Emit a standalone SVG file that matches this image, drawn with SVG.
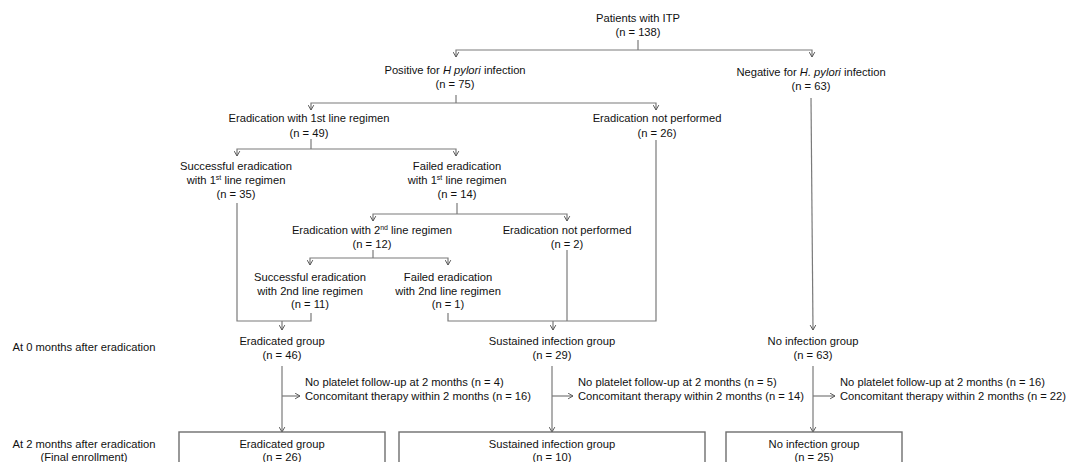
<svg xmlns="http://www.w3.org/2000/svg" width="1080" height="462" viewBox="0 0 1080 462">
<style>
text{font-family:"Liberation Sans",Arial,sans-serif;font-size:11.2px;fill:#111}
.c{text-anchor:middle}
.l{text-anchor:start}
.ln{fill:none;stroke:#7a7a7a;stroke-width:1.2}
.box{fill:#fff;stroke:#6e6e6e;stroke-width:1.4}
.sup{font-size:7px}
</style>
<defs>
<marker id="ah" viewBox="0 0 10 10" refX="9" refY="5" markerWidth="7" markerHeight="7" markerUnits="userSpaceOnUse" orient="auto">
<path d="M2,1 L9,5 L2,9" fill="none" stroke="#555" stroke-width="1.4"/>
</marker>
</defs>
<rect width="1080" height="462" fill="#fff"/>

<g id="connectors">
<path class="ln" d="M638,40 V50"/>
<path class="ln" d="M638,50 H456 V57" marker-end="url(#ah)"/>
<path class="ln" d="M638,50 H812 V57" marker-end="url(#ah)"/>
<path class="ln" d="M456,95 V103"/>
<path class="ln" d="M456,103 H311 V110" marker-end="url(#ah)"/>
<path class="ln" d="M456,103 H656 V110" marker-end="url(#ah)"/>
<path class="ln" d="M311,139 V149"/>
<path class="ln" d="M311,149 H237 V156" marker-end="url(#ah)"/>
<path class="ln" d="M311,149 H456 V156" marker-end="url(#ah)"/>
<path class="ln" d="M457,203 V214"/>
<path class="ln" d="M457,214 H373 V221" marker-end="url(#ah)"/>
<path class="ln" d="M457,214 H567 V221" marker-end="url(#ah)"/>
<path class="ln" d="M373,250 V258"/>
<path class="ln" d="M373,258 H310 V265" marker-end="url(#ah)"/>
<path class="ln" d="M373,258 H448 V265" marker-end="url(#ah)"/>
<path class="ln" d="M237,203 V321 H311 V313"/>
<path class="ln" d="M282,321 V330" marker-end="url(#ah)"/>
<path class="ln" d="M448,313 V321 H656 V140"/>
<path class="ln" d="M567,250 V321"/>
<path class="ln" d="M553,321 V330" marker-end="url(#ah)"/>
<path class="ln" d="M811,98 L813,330" marker-end="url(#ah)"/>
<path class="ln" d="M282,366 V432" marker-end="url(#ah)"/>
<path class="ln" d="M282,396 H300" marker-end="url(#ah)"/>
<path class="ln" d="M552,366 V432" marker-end="url(#ah)"/>
<path class="ln" d="M552,396 H573" marker-end="url(#ah)"/>
<path class="ln" d="M813,366 V432" marker-end="url(#ah)"/>
<path class="ln" d="M813,396 H835" marker-end="url(#ah)"/>
</g>

<g id="n-root">
<text class="c" x="638" y="22">Patients with ITP</text>
<text class="c" x="638" y="36">(n = 138)</text>
</g>
<g id="n-positive">
<text class="c" x="455" y="74">Positive for <tspan font-style="italic">H pylori</tspan> infection</text>
<text class="c" x="455" y="88">(n = 75)</text>
</g>
<g id="n-negative">
<text class="c" x="811" y="76">Negative for <tspan font-style="italic">H. pylori</tspan> infection</text>
<text class="c" x="811" y="90">(n = 63)</text>
</g>
<g id="n-erad1">
<text class="c" x="309" y="122">Eradication with 1st line regimen</text>
<text class="c" x="309" y="137">(n = 49)</text>
</g>
<g id="n-notperf1">
<text class="c" x="657" y="122">Eradication not performed</text>
<text class="c" x="657" y="137">(n = 26)</text>
</g>
<g id="n-success1">
<text class="c" x="236" y="170">Successful eradication</text>
<text class="c" x="236" y="184">with 1<tspan class="sup" dy="-4">st</tspan><tspan dy="4"> line regimen</tspan></text>
<text class="c" x="236" y="198">(n = 35)</text>
</g>
<g id="n-failed1">
<text class="c" x="457" y="170">Failed eradication</text>
<text class="c" x="457" y="184">with 1<tspan class="sup" dy="-4">st</tspan><tspan dy="4"> line regimen</tspan></text>
<text class="c" x="457" y="198">(n = 14)</text>
</g>
<g id="n-erad2">
<text class="c" x="372" y="234">Eradication with 2<tspan class="sup" dy="-4">nd</tspan><tspan dy="4"> line regimen</tspan></text>
<text class="c" x="372" y="248">(n = 12)</text>
</g>
<g id="n-notperf2">
<text class="c" x="567" y="234">Eradication not performed</text>
<text class="c" x="567" y="248">(n = 2)</text>
</g>
<g id="n-success2">
<text class="c" x="310" y="281">Successful eradication</text>
<text class="c" x="310" y="295">with 2nd line regimen</text>
<text class="c" x="310" y="308">(n = 11)</text>
</g>
<g id="n-failed2">
<text class="c" x="448" y="281">Failed eradication</text>
<text class="c" x="448" y="295">with 2nd line regimen</text>
<text class="c" x="448" y="308">(n = 1)</text>
</g>

<g id="label-0m">
<text class="c" x="84" y="351">At 0 months after eradication</text>
</g>
<g id="n-eradicated0">
<text class="c" x="282" y="345">Eradicated group</text>
<text class="c" x="282" y="359">(n = 46)</text>
</g>
<g id="n-sustained0">
<text class="c" x="552" y="345">Sustained infection group</text>
<text class="c" x="552" y="359">(n = 29)</text>
</g>
<g id="n-noinf0">
<text class="c" x="813" y="345">No infection group</text>
<text class="c" x="813" y="359">(n = 63)</text>
</g>

<g id="excl-eradicated">
<text class="l" x="305" y="386">No platelet follow-up at 2 months (n = 4)</text>
<text class="l" x="305" y="400">Concomitant therapy within 2 months (n = 16)</text>
</g>
<g id="excl-sustained">
<text class="l" x="578" y="386">No platelet follow-up at 2 months (n = 5)</text>
<text class="l" x="578" y="400">Concomitant therapy within 2 months (n = 14)</text>
</g>
<g id="excl-noinf">
<text class="l" x="840" y="386">No platelet follow-up at 2 months (n = 16)</text>
<text class="l" x="840" y="400">Concomitant therapy within 2 months (n = 22)</text>
</g>

<g id="label-2m">
<text class="c" x="84" y="448">At 2 months after eradication</text>
<text class="c" x="84" y="461">(Final enrollment)</text>
</g>
<g id="n-eradicated2">
<rect class="box" x="179" y="432" width="206" height="45"/>
<text class="c" x="282" y="448">Eradicated group</text>
<text class="c" x="282" y="461">(n = 26)</text>
</g>
<g id="n-sustained2">
<rect class="box" x="399" y="432" width="306" height="45"/>
<text class="c" x="552" y="448">Sustained infection group</text>
<text class="c" x="552" y="461">(n = 10)</text>
</g>
<g id="n-noinf2">
<rect class="box" x="726" y="432" width="176" height="45"/>
<text class="c" x="814" y="448">No infection group</text>
<text class="c" x="814" y="461">(n = 25)</text>
</g>
</svg>
